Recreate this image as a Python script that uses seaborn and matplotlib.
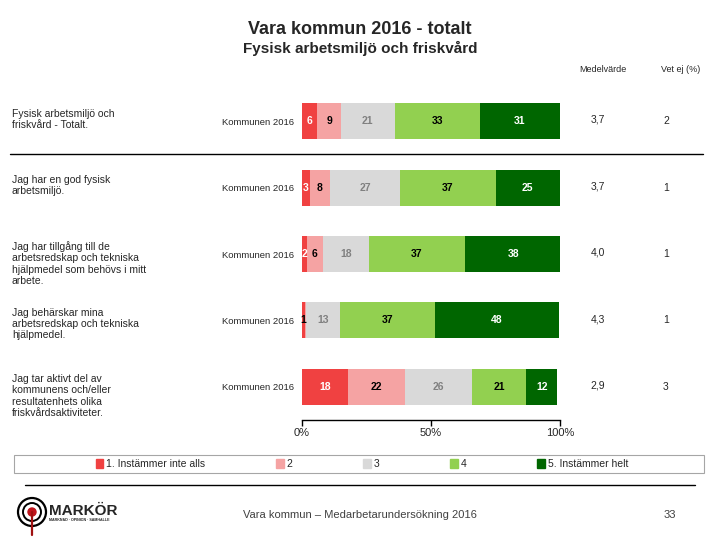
import matplotlib
matplotlib.use("Agg")
import matplotlib.pyplot as plt
import matplotlib.transforms as mtransforms
from matplotlib.patches import Rectangle, Ellipse
from matplotlib.lines import Line2D
import pandas as pd
import seaborn as sns

# data
questions = [
    "Fysisk arbetsmiljö och\nfriskvård - Totalt.",
    "Jag har en god fysisk\narbetsmiljö.",
    "Jag har tillgång till de\narbetsredskap och tekniska\nhjälpmedel som behövs i mitt\narbete.",
    "Jag behärskar mina\narbetsredskap och tekniska\nhjälpmedel.",
    "Jag tar aktivt del av\nkommunens och/eller\nresultatenhets olika\nfriskvårdsaktiviteter.",
]
group = "Kommunen 2016"
answers = ["1. Instämmer inte alls", "2", "3", "4", "5. Instämmer helt"]
v1 = [6, 3, 2, 1, 18]
v2 = [9, 8, 6, 0.6, 22]
v3 = [21, 27, 18, 13, 26]
v4 = [33, 37, 37, 37, 21]
v5 = [31, 25, 38, 48, 12]
means = ["3,7", "3,7", "4,0", "4,3", "2,9"]
vet_ej = ["2", "1", "1", "1", "3"]

colors = ["#f04141", "#f5a3a3", "#d9d9d9", "#92d050", "#006600"]
text_colors = ["white", "black", "#808080", "black", "white"]

sns.set_theme(style="white")
plt.rcParams["font.family"] = ["Liberation Sans", "DejaVu Sans"]

W, H = 720, 540
fig = plt.figure(figsize=(W / 100, H / 100), dpi=100)


def fx(px):
    return px / W


def fy(py):
    return 1 - py / H


# bar area: 0% at x=302, 100% at x=560, rows from y=88 to y=420
ax = fig.add_axes([fx(302), fy(420), fx(560) - fx(302), fy(88) - fy(420)])

df = pd.DataFrame({"q": questions, "a1": v1, "a2": v2, "a3": v3, "a4": v4, "a5": v5})
vals = df[["a1", "a2", "a3", "a4", "a5"]].to_numpy(dtype=float)
cum = vals.cumsum(axis=1)
for k in range(4, -1, -1):
    df["cum"] = cum[:, k]
    sns.barplot(data=df, x="cum", y="q", orient="h", color=colors[k],
                saturation=1, width=0.54, linewidth=0, ax=ax)

# segment labels
for i in range(len(questions)):
    for k in range(5):
        v = vals[i, k]
        if v < 1:
            continue
        c = cum[i, k] - v / 2
        tc = text_colors[k]
        if k == 0 and v < 2:
            tc = "black"
        ax.text(c, i, f"{v:.0f}", ha="center", va="center", fontsize=7.5,
                fontweight="bold", color=tc)

ax.set_xlim(0, 100)
ax.set_ylim(4.5, -0.5)
ax.set_xticks([0, 50, 100])
ax.set_xticklabels(["0%", "50%", "100%"], fontsize=8)
ax.set_yticks(range(len(questions)))
ax.set_yticklabels([group] * len(questions), fontsize=6.8)
ax.tick_params(axis="y", length=0, pad=5.5)
ax.tick_params(axis="x", length=4, width=1, color="black", pad=2, direction="out",
               bottom=True)
ax.set_xlabel("")
ax.set_ylabel("")
for s in ["top", "right", "left"]:
    ax.spines[s].set_visible(False)
ax.spines["bottom"].set_color("black")
ax.spines["bottom"].set_linewidth(1)

# question texts, mean and "vet ej" columns
tr = mtransforms.blended_transform_factory(fig.transFigure, ax.transData)
for i, q in enumerate(questions):
    fig.text(fx(12), 0, q, transform=tr, fontsize=7.5, va="top", ha="left",
             linespacing=1.15).set_y(i - 0.19)
    fig.text(fx(598), 0, means[i], transform=tr, fontsize=7.5, va="center",
             ha="center").set_y(i - 0.02)
    fig.text(fx(666), 0, vet_ej[i], transform=tr, fontsize=7.5, va="center",
             ha="center").set_y(i)

fig.text(fx(603), fy(69), "Medelvärde", fontsize=6.5, ha="center", va="center")
fig.text(fx(681), fy(69), "Vet ej (%)", fontsize=6.5, ha="center", va="center")

# titles
fig.text(0.5, fy(30), "Vara kommun 2016 - totalt", fontsize=13, fontweight="bold",
         ha="center", va="center")
fig.text(0.5, fy(48), "Fysisk arbetsmiljö och friskvård", fontsize=11,
         fontweight="bold", ha="center", va="center")

# separator under the total row
fig.add_artist(Line2D([fx(10), fx(703)], [fy(154), fy(154)], color="black", lw=1))

# legend with its own frame
fig.add_artist(Rectangle((fx(14), fy(473)), fx(704) - fx(14), fy(455) - fy(473),
                         transform=fig.transFigure, fill=False, edgecolor="#a6a6a6",
                         lw=0.8))
handles = [Rectangle((0, 0), 1, 1, color=c) for c in colors]
fig.legend(handles, answers, loc="center", bbox_to_anchor=(fx(362), fy(464)),
           ncol=5, frameon=False, fontsize=7.5, handlelength=0.7, handleheight=0.9,
           handletextpad=0.3, columnspacing=6.8, borderpad=0)

# footer
fig.add_artist(Line2D([fx(25), fx(695)], [fy(485), fy(485)], color="black", lw=1))
fig.text(0.5, fy(515), "Vara kommun – Medarbetarundersökning 2016", fontsize=8,
         ha="center", va="center", color="#404040")
fig.text(fx(670), fy(515), "33", fontsize=8, ha="center", va="center",
         color="#404040")

# logo
for r, lw in [(14, 1.6), (9, 1.4)]:
    fig.add_artist(Ellipse((fx(32), fy(512)), 2 * r / W, 2 * r / H,
                           transform=fig.transFigure, fill=False,
                           edgecolor="black", lw=lw))
fig.add_artist(Line2D([fx(32), fx(32)], [fy(512), fy(535)], color="#a01010", lw=1.6))
fig.add_artist(Ellipse((fx(32), fy(512)), 8 / W, 8 / H, transform=fig.transFigure,
                       color="#c0151c"))
fig.text(fx(49), fy(511), "MARKÖR", fontsize=11, fontweight="bold", ha="left",
         va="center")
fig.text(fx(49), fy(520), "MARKNAD · OPINION · SAMHÄLLE", fontsize=2.6,
         fontweight="bold", ha="left", va="center")

fig.savefig("out.png", dpi=100)
